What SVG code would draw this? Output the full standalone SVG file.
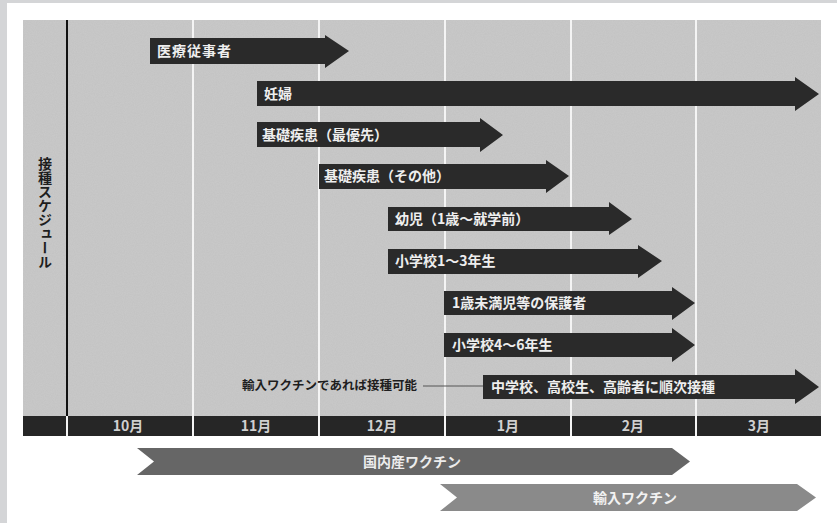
<svg xmlns="http://www.w3.org/2000/svg" width="837" height="523" viewBox="0 0 837 523">
<defs>
<style>
.t{font-family:"Noto Sans CJK JP","Noto Sans",sans-serif;font-weight:bold;}
.arrow{fill:#2a2a2a;}
.at{fill:#eeeeee;font-size:14px;}
.grid{stroke:#f4f4f4;stroke-width:2;}
.mon{fill:#d0d0d0;font-size:14px;text-anchor:middle;}
</style>
<filter id="noise" x="0" y="0" width="100%" height="100%">
<feTurbulence type="fractalNoise" baseFrequency="0.9" numOctaves="2" seed="3" result="n"/>
<feColorMatrix in="n" type="matrix" values="0 0 0 0 0.45  0 0 0 0 0.45  0 0 0 0 0.45  0 0 0 0.35 -0.08"/>
</filter>
</defs>
<rect x="0" y="0" width="837" height="523" fill="#ffffff"/>
<rect x="0" y="0" width="837" height="3" fill="#d4d5d7"/>
<rect x="0" y="0" width="7" height="523" fill="#d4d5d7"/>
<g id="chart">
<rect x="23" y="20" width="798" height="396" fill="#c8c8c8"/>
<rect x="23" y="20" width="798" height="396" filter="url(#noise)"/>
<g class="grid">
<line x1="193" y1="20" x2="193" y2="436"/>
<line x1="319" y1="20" x2="319" y2="436"/>
<line x1="445" y1="20" x2="445" y2="436"/>
<line x1="571" y1="20" x2="571" y2="436"/>
<line x1="696" y1="20" x2="696" y2="436"/>
</g>
<rect x="23" y="416" width="798" height="20" fill="#262626"/>
<g class="grid">
<line x1="67" y1="416" x2="67" y2="436"/>
<line x1="193" y1="416" x2="193" y2="436"/>
<line x1="319" y1="416" x2="319" y2="436"/>
<line x1="445" y1="416" x2="445" y2="436"/>
<line x1="571" y1="416" x2="571" y2="436"/>
<line x1="696" y1="416" x2="696" y2="436"/>
</g>
<line x1="67" y1="20" x2="67" y2="416" stroke="#111" stroke-width="2"/>
<text class="t" x="45" y="157" font-size="14" fill="#1e1e1e" style="writing-mode:vertical-rl">接種スケジュール</text>
<g class="t mon">
<text x="128" y="431">10月</text>
<text x="256" y="431">11月</text>
<text x="382" y="431">12月</text>
<text x="508" y="431">1月</text>
<text x="633" y="431">2月</text>
<text x="759" y="431">3月</text>
</g>
</g>
<g id="n1"><polygon class="arrow" points="150,38 325,38 325,35 349,51 325,68 325,64 150,64"/><text class="t at" x="157" y="56" letter-spacing="1">医療従事者</text></g>
<g id="n2"><polygon class="arrow" points="257,81 795,81 795,77 819,94 795,111 795,106 257,106"/><text class="t at" x="264" y="99">妊婦</text></g>
<g id="n3"><polygon class="arrow" points="257,122 480,122 480,118 503,135 480,152 480,147 257,147"/><text class="t at" x="262" y="140">基礎疾患（最優先）</text></g>
<g id="n4"><polygon class="arrow" points="319,164 546,164 546,160 569,176 546,193 546,189 319,189"/><text class="t at" x="324" y="181">基礎疾患（その他）</text></g>
<g id="n5"><polygon class="arrow" points="388,207 609,207 609,202 632,219 609,235 609,231 388,231"/><text class="t at" x="395" y="224">幼児（1歳〜就学前）</text></g>
<g id="n6"><polygon class="arrow" points="388,249 638,249 638,245 662,261 638,278 638,274 388,274"/><text class="t at" x="395" y="266">小学校1〜3年生</text></g>
<g id="n7"><polygon class="arrow" points="444,291 672,291 672,287 695,303 672,320 672,315 444,315"/><text class="t at" x="452" y="308">1歳未満児等の保護者</text></g>
<g id="n8"><polygon class="arrow" points="444,333 672,333 672,328 695,345 672,362 672,357 444,357"/><text class="t at" x="452" y="350">小学校4〜6年生</text></g>
<g id="n9"><polygon class="arrow" points="483,375 795,375 795,369 819,387 795,404 795,399 483,399"/><text class="t at" x="491" y="392">中学校、高校生、高齢者に順次接種</text></g>
<g id="note"><text class="t" x="417" y="390" font-size="12.5" fill="#1e1e1e" text-anchor="end">輸入ワクチンであれば接種可能</text></g>
<g id="connectors"><line x1="423" y1="386" x2="483" y2="386" stroke="#555" stroke-width="1"/></g>
<g id="domestic"><polygon points="137,448 672,448 690,461.5 672,475 137,475 154,461.5" fill="#666666"/><text class="t" x="412" y="466.5" font-size="14" fill="#ececec" text-anchor="middle">国内産ワクチン</text></g>
<g id="imported"><polygon points="440,484 797,484 816,497.5 797,511 440,511 457,497.5" fill="#8a8a8a"/><text class="t" x="635" y="502.5" font-size="14" fill="#f2f2f2" text-anchor="middle">輸入ワクチン</text></g>
</svg>
